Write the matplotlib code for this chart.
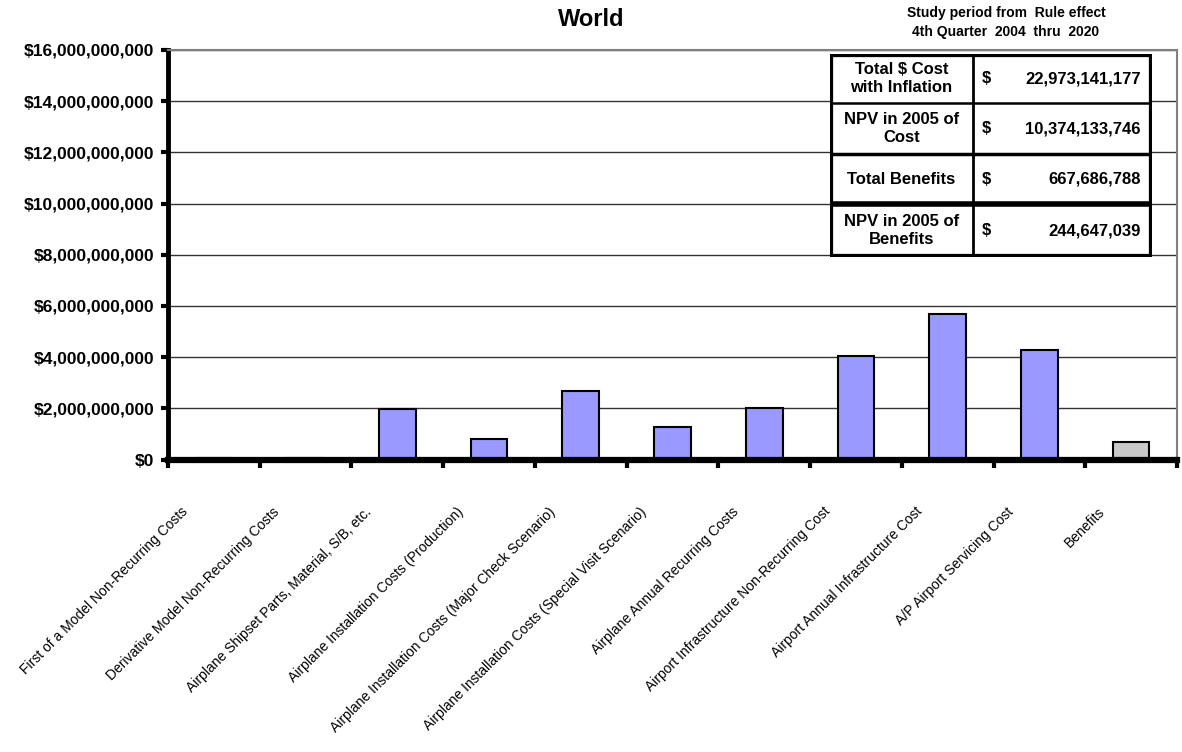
import numpy as np
import matplotlib.pyplot as plt
from matplotlib.patches import Rectangle
from matplotlib.transforms import ScaledTranslation
from matplotlib.ticker import FuncFormatter

plt.rcParams['font.family'] = ['Liberation Sans', 'DejaVu Sans']
plt.rcParams['text.parse_math'] = False

categories = [
    'First of a Model Non-Recurring Costs',
    'Derivative Model Non-Recurring Costs',
    'Airplane Shipset Parts, Material, S/B, etc.',
    'Airplane Installation Costs (Production)',
    'Airplane Installation Costs (Major Check Scenario)',
    'Airplane Installation Costs (Special Visit Scenario)',
    'Airplane Annual Recurring Costs',
    'Airport Infrastructure Non-Recurring Cost',
    'Airport Annual Infrastructure Cost',
    'A/P Airport Servicing Cost',
    'Benefits',
]
# dollars
values = [5.0e7, 4.0e7, 1.98e9, 8.0e8, 2.66e9, 1.27e9, 2.01e9,
          4.04e9, 5.70e9, 4.29e9, 667686788]
bar_colors = ['#9999FF'] * 10 + ['#C8C8C8']

summary_labels = ['Total $ Cost\nwith Inflation', 'NPV in 2005 of\nCost',
                  'Total Benefits', 'NPV in 2005 of\nBenefits']
summary_values = [22973141177, 10374133746, 667686788, 244647039]

W, H = 1182, 752
fig = plt.figure(figsize=(W / 100, H / 100), dpi=100)
ax = fig.add_axes([168 / W, 1 - 459.5 / H, (1177 - 168) / W, (459.5 - 50) / H])

x = np.arange(len(categories)) + 0.5
ax.bar(x, values, width=0.4, color=bar_colors, edgecolor='black', linewidth=1.5, zorder=2)

ax.set_xlim(0, len(categories))
ax.set_ylim(0, 16e9)
ax.set_yticks(np.arange(0, 16e9 + 1, 2e9))
ax.yaxis.set_major_formatter(FuncFormatter(lambda v, p: '${:,.0f}'.format(v)))
for lab in ax.get_yticklabels():
    lab.set_fontweight('bold')
ax.tick_params(axis='y', direction='out', length=5, width=3, labelsize=12.5, pad=5)
ax.yaxis.grid(True, color='#333333', linewidth=1)
ax.set_axisbelow(True)

ax.set_xticks(x)
ax.set_xticklabels(categories, rotation=45, ha='right', va='center',
                   rotation_mode='anchor', fontsize=10)
ax.set_xticks(np.arange(len(categories) + 1), minor=True)
ax.tick_params(axis='x', which='major', length=0, pad=36)
ax.tick_params(axis='x', which='minor', direction='out', length=6, width=3)
shift = ScaledTranslation(-0.28, 0, fig.dpi_scale_trans)
for lab in ax.get_xticklabels():
    lab.set_transform(lab.get_transform() + shift)

ax.spines['left'].set_linewidth(3.5)
ax.spines['bottom'].set_linewidth(4.5)
for side in ['top', 'right']:
    ax.spines[side].set_color('#808080')
    ax.spines[side].set_linewidth(1.5)

fig.text(0.5, 1 - 19 / H, 'World', ha='center', va='center',
         fontsize=17, fontweight='bold')
fig.text(1006 / W, 1 - 13 / H, 'Study period from  Rule effect',
         ha='center', va='center', fontsize=10, fontweight='bold')
fig.text(1006 / W, 1 - 32 / H, '4th Quarter  2004  thru  2020',
         ha='center', va='center', fontsize=10, fontweight='bold')

# summary table, laid out in pixel units
tl, tr, tt, tb = 830, 1152, 54, 257
tax = fig.add_axes([tl / W, 1 - tb / H, (tr - tl) / W, (tb - tt) / H])
tax.set_xlim(tl, tr)
tax.set_ylim(tb, tt)
tax.axis('off')
tax.add_patch(Rectangle((tl, tt), tr - tl, tb - tt, facecolor='white',
                        edgecolor='black', linewidth=4.5, zorder=4))
tax.patches[0].set_facecolor('none')
tax.add_patch(Rectangle((tl, tt), tr - tl, tb - tt, facecolor='white',
                        edgecolor='none', zorder=1))
col = 973
rows = [tt, 103, 154, 204, tb]
tax.plot([col, col], [tt, tb], color='black', lw=2, zorder=2)
line_widths = [1.8, 2.5, 4.0]
for yb, lw in zip(rows[1:-1], line_widths):
    tax.plot([tl, tr], [yb, yb], color='black', lw=lw, zorder=2)
for i, (lab, val) in enumerate(zip(summary_labels, summary_values)):
    yc = (rows[i] + rows[i + 1]) / 2
    tax.text((tl + col) / 2, yc, lab, ha='center', va='center', fontsize=12,
             fontweight='bold', linespacing=1.3, zorder=3)
    tax.text(982, yc, '$', ha='left', va='center', fontsize=12, fontweight='bold', zorder=3)
    tax.text(1141, yc, '{:,}'.format(val), ha='right', va='center', fontsize=12,
             fontweight='bold', zorder=3)

fig.savefig('out.png', dpi=100)
